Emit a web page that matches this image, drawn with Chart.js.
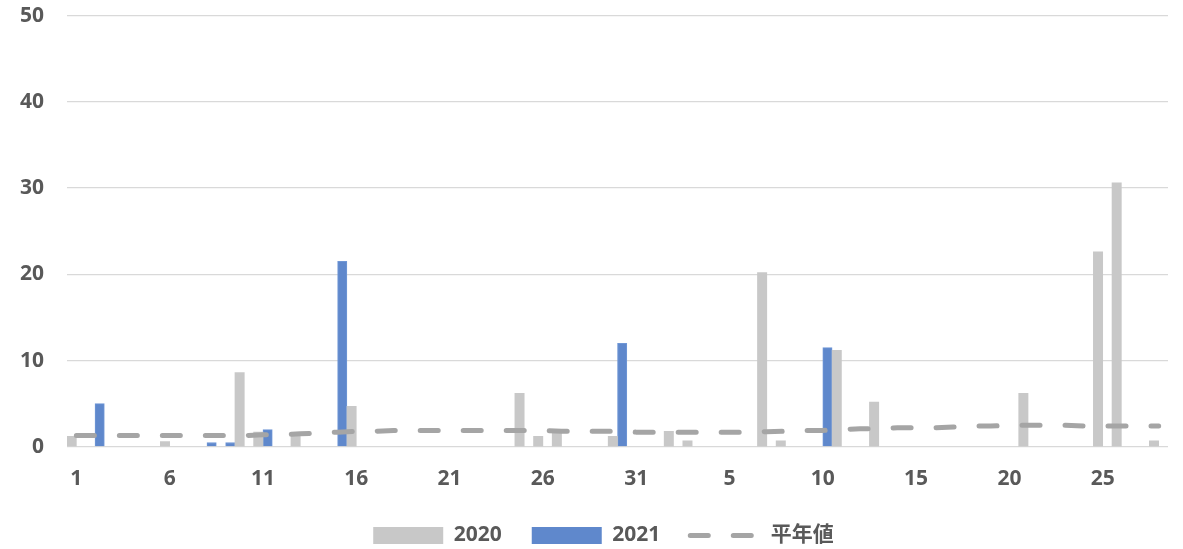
<!DOCTYPE html>
<html>
<head>
<meta charset="utf-8">
<script src="https://cdn.jsdelivr.net/npm/chart.js@4.4.1/dist/chart.umd.min.js"></script>
<style>
  html, body { margin: 0; padding: 0; background: #ffffff; }
  #wrap { width: 1183px; height: 549px; }
</style>
</head>
<body>
<div id="wrap"><canvas id="c" width="1183" height="549"></canvas></div>
<script>
// Categories: Jan 1..31 then Feb 1..28
const janDays = ["1","2","3","4","5","6","7","8","9","10","11","12","13","14","15","16","17","18","19","20","21","22","23","24","25","26","27","28","29","30","31"];
const febDays = ["1","2","3","4","5","6","7","8","9","10","11","12","13","14","15","16","17","18","19","20","21","22","23","24","25","26","27","28"];

const series2020Jan = [1.2,null,null,null,null,0.6,null,null,null,8.6, 1.7,null,1.2,null,null,4.7,null,null,null,null, null,null,null,null,6.2,1.2,1.8,null,null,1.2, null];
const series2020Feb = [null,1.8,0.7,null,null,null,20.2,0.7,null,null, 11.2,null,5.2,null,null,null,null,null,null,null, 6.2,null,null,null,22.6,30.6,null,0.7];

const series2021Jan = [null,5.0,null,null,null,null,null,0.5,0.5,null, 2.0,null,null,null,21.5,null,null,null,null,null, null,null,null,null,null,null,null,null,null,12.0, null];
const series2021Feb = [null,null,null,null,null,null,null,null,null,11.5, null,null,null,null,null,null,null,null,null,null, null,null,null,null,null,null,null,null];

const normalJan = [1.3,1.3,1.3,1.3,1.3,1.3,1.3,1.3,1.3,1.3, 1.4,1.4,1.5,1.6,1.7,1.8,1.8,1.9,1.9,1.9, 1.9,1.9,1.9,1.9,1.9,1.9,1.8,1.8,1.8,1.8,1.7];
const normalFeb = [1.7,1.7,1.7,1.7,1.7,1.7,1.75,1.8,1.9,1.9, 2.0,2.1,2.1,2.2,2.2,2.2,2.3,2.4,2.4,2.5, 2.5,2.5,2.5,2.4,2.4,2.4,2.4,2.4];

const seriesNames = ["2020", "2021", "平年値"];
const yTicks = [0, 10, 20, 30, 40, 50];

const labels = janDays.concat(febDays);
const data2020 = series2020Jan.concat(series2020Feb);
const data2021 = series2021Jan.concat(series2021Feb);
const dataNormal = normalJan.concat(normalFeb);

const FONT = "'Open Sans', 'Noto Sans CJK JP', sans-serif";
const TEXT = '#595959';

const shiftLegend = {
  id: 'shiftLegend',
  afterLayout(chart) {
    if (chart.legend) { chart.legend.left += 11; chart.legend.right += 11; }
  }
};

new Chart(document.getElementById('c'), {
  plugins: [shiftLegend],
  data: {
    labels: labels,
    datasets: [
      {
        type: 'bar',
        label: seriesNames[0],
        data: data2020,
        backgroundColor: '#c8c8c8',
        borderWidth: 0,
        categoryPercentage: 1.0,
        barPercentage: 1.0,
        order: 2
      },
      {
        type: 'bar',
        label: seriesNames[1],
        data: data2021,
        backgroundColor: '#5f88cc',
        borderColor: '#7097d6',
        borderWidth: 1,
        categoryPercentage: 1.0,
        barPercentage: 1.0,
        order: 3
      },
      {
        type: 'line',
        label: seriesNames[2],
        data: dataNormal,
        borderColor: '#a5a5a5',
        backgroundColor: '#a5a5a5',
        borderWidth: 5,
        borderDash: [18, 25],
        borderCapStyle: 'round',
        pointRadius: 0,
        tension: 0,
        fill: false,
        order: 1
      }
    ]
  },
  options: {
    responsive: false,
    animation: false,
    devicePixelRatio: 1,
    layout: { padding: { left: 17, right: 15, top: 0, bottom: -7 } },
    plugins: {
      tooltip: { enabled: false },
      legend: {
        position: 'bottom',
        labels: {
          color: TEXT,
          font: { family: FONT, size: 21, weight: 'bold' },
          boxWidth: 70,
          boxHeight: 17,
          padding: 30,
          usePointStyle: true,
          pointStyleWidth: 70,
          sort: (a, b) => a.datasetIndex - b.datasetIndex,
          generateLabels: function (chart) {
            const items = Chart.defaults.plugins.legend.labels.generateLabels(chart);
            items.forEach(it => {
              const ds = chart.data.datasets[it.datasetIndex];
              if (ds.type === 'line') {
                it.pointStyle = 'line';
                it.lineDash = [18, 25];
                it.lineCap = 'round';
                it.lineWidth = 5;
                it.strokeStyle = '#a5a5a5';
              } else {
                it.pointStyle = 'rect';
                it.lineWidth = 0;
              }
            });
            return items;
          }
        }
      }
    },
    scales: {
      x: {
        grid: { display: false, drawTicks: false },
        border: { display: false },
        afterFit: (scale) => { scale.height -= 17; },
        ticks: {
          color: TEXT,
          font: { family: FONT, size: 21, weight: 'bold' },
          autoSkip: false,
          maxRotation: 0,
          padding: 20,
          callback: function (val, idx) { return idx % 5 === 0 ? this.getLabelForValue(val) : ''; }
        }
      },
      y: {
        min: 0,
        max: 50,
        afterBuildTicks: (axis) => { axis.ticks = yTicks.map(v => ({ value: v })); },
        grid: { color: '#d9d9d9', lineWidth: 1.3, drawTicks: true, tickLength: 20, tickColor: 'rgba(0,0,0,0)' },
        border: { display: false },
        ticks: {
          color: TEXT,
          font: { family: FONT, size: 21, weight: 'bold' },
          padding: 3
        }
      }
    }
  }
});
</script>
</body>
</html>
